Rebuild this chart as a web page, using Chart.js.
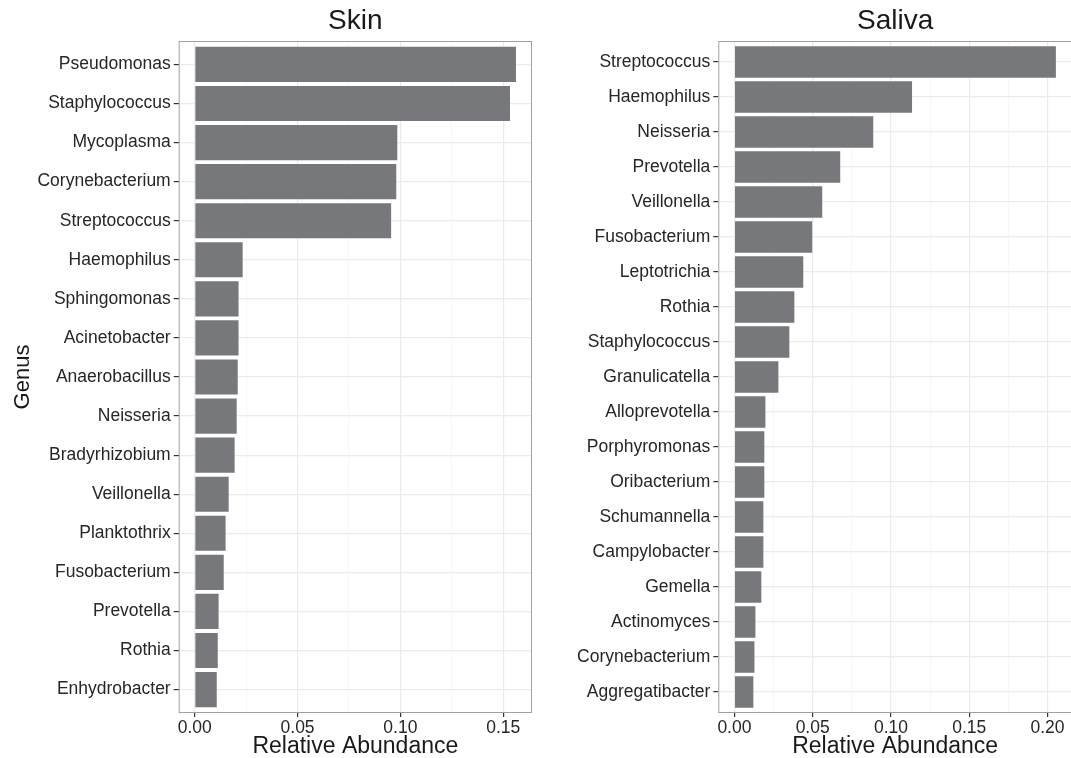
<!DOCTYPE html>
<html lang="en">
<head>
  <meta charset="UTF-8" />
  <title>Skin and Saliva genera</title>
  <script src="https://cdn.jsdelivr.net/npm/chart.js"></script>
  <style>
    html, body { margin: 0; padding: 0; background: #fff; overflow: hidden; }
    #wrap { position: relative; width: 1071px; height: 758px; overflow: hidden; }
    canvas { position: absolute; top: 0; }
    #skinCanvas { left: 0; }
    #salivaCanvas { left: 536px; }
  </style>
</head>
<body>
  <div id="wrap">
    <canvas id="skinCanvas" width="536" height="758"></canvas>
    <canvas id="salivaCanvas" width="540" height="758"></canvas>
  </div>

  <script>
    const skinGenera = ['Pseudomonas', 'Staphylococcus', 'Mycoplasma', 'Corynebacterium', 'Streptococcus',
      'Haemophilus', 'Sphingomonas', 'Acinetobacter', 'Anaerobacillus', 'Neisseria', 'Bradyrhizobium',
      'Veillonella', 'Planktothrix', 'Fusobacterium', 'Prevotella', 'Rothia', 'Enhydrobacter'];
    const skinAbundance = [0.1562, 0.1533, 0.0985, 0.0980, 0.0955, 0.0233, 0.0213, 0.0213, 0.0209,
      0.0204, 0.0194, 0.0165, 0.0150, 0.0141, 0.0116, 0.0112, 0.0107];

    const salivaGenera = ['Streptococcus', 'Haemophilus', 'Neisseria', 'Prevotella', 'Veillonella',
      'Fusobacterium', 'Leptotrichia', 'Rothia', 'Staphylococcus', 'Granulicatella', 'Alloprevotella',
      'Porphyromonas', 'Oribacterium', 'Schumannella', 'Campylobacter', 'Gemella', 'Actinomyces',
      'Corynebacterium', 'Aggregatibacter'];
    const salivaAbundance = [0.2054, 0.1135, 0.0887, 0.0676, 0.0561, 0.0497, 0.0440, 0.0383, 0.0351,
      0.0281, 0.0198, 0.0191, 0.0191, 0.0185, 0.0185, 0.0172, 0.0134, 0.0128, 0.0121];

    // major ticks every 0.05, minor grid in between
    const skinTicks = [0, 0.025, 0.05, 0.075, 0.1, 0.125, 0.15];
    const salivaTicks = [0, 0.025, 0.05, 0.075, 0.1, 0.125, 0.15, 0.175, 0.2];

    const FONT = "'Liberation Sans', Arial, Helvetica, sans-serif";
    const BAR = '#77787c';
    const TEXT = '#262626';

    const isMajor = v => Math.abs(v / 0.05 - Math.round(v / 0.05)) < 1e-6;

    // ggplot-like panel border all round
    const panelBorder = {
      id: 'panelBorder',
      afterDraw(chart) {
        const { ctx, chartArea: a } = chart;
        ctx.save();
        ctx.strokeStyle = '#a0a0a0';
        ctx.lineWidth = 1;
        ctx.strokeRect(a.left + 0.5, a.top + 0.5, a.right - a.left - 1, a.bottom - a.top - 1);
        ctx.restore();
      }
    };

    function makePanel(canvasId, title, genera, values, xTicks, xMin, xMax, yWidth, yTitle) {
      return new Chart(document.getElementById(canvasId), {
        type: 'bar',
        data: {
          datasets: [{
            data: genera.map((g, i) => ({ x: values[i], y: i })),
            backgroundColor: BAR,
            borderWidth: 0,
            categoryPercentage: 1,
            barPercentage: 0.9
          }]
        },
        options: {
          indexAxis: 'y',
          responsive: false,
          animation: false,
          devicePixelRatio: 1,
          layout: { padding: { left: 0, right: 4, top: 0, bottom: 0 } },
          plugins: {
            legend: { display: false },
            tooltip: { enabled: false },
            title: {
              display: true,
              text: title,
              fullSize: false,
              color: '#1a1a1a',
              font: { family: FONT, size: 28, weight: 'normal', lineHeight: 1.2 },
              padding: { top: 4, bottom: 3.4 }
            }
          },
          scales: {
            x: {
              type: 'linear',
              position: 'bottom',
              bounds: 'data',
              offset: false,
              min: xMin,
              max: xMax,
              afterBuildTicks: s => { s.ticks = xTicks.map(v => ({ value: v })); },
              afterFit: s => { s.height = 45; },
              ticks: {
                autoSkip: false,
                maxRotation: 0,
                padding: 1,
                color: TEXT,
                font: { family: FONT, size: 17.5 },
                callback: v => isMajor(v) ? v.toFixed(2) : ''
              },
              grid: {
                offset: false,
                color: c => (c.tick && !isMajor(c.tick.value)) ? '#f4f4f4' : '#ebebeb',
                lineWidth: c => (c.tick && !isMajor(c.tick.value)) ? 0.7 : 1.2,
                tickColor: c => (c.tick && !isMajor(c.tick.value)) ? 'rgba(0,0,0,0)' : '#333',
                tickLength: 4
              },
              border: { display: false },
              title: {
                display: true,
                text: 'Relative Abundance',
                color: '#1a1a1a',
                font: { family: FONT, size: 23, lineHeight: 1 },
                padding: 0
              }
            },
            y: {
              type: 'linear',
              reverse: true,
              bounds: 'data',
              offset: false,
              min: -0.6,
              max: genera.length - 0.4,
              afterBuildTicks: s => { s.ticks = genera.map((g, i) => ({ value: i })); },
              afterFit: s => { s.width = yWidth; },
              ticks: {
                autoSkip: false,
                padding: 3,
                color: TEXT,
                font: { family: FONT, size: 17.5 },
                callback: v => genera[v]
              },
              grid: { offset: false, color: '#ebebeb', lineWidth: 1.2, tickColor: '#333', tickLength: 5 },
              border: { display: false },
              title: {
                display: !!yTitle,
                text: yTitle || '',
                color: '#1a1a1a',
                font: { family: FONT, size: 22, lineHeight: 1 },
                padding: { top: 12, bottom: 0 }
              }
            }
          }
        },
        plugins: [panelBorder]
      });
    }

    makePanel('skinCanvas', 'Skin', skinGenera, skinAbundance, skinTicks, -0.0078, 0.164, 178.7, 'Genus');
    makePanel('salivaCanvas', 'Saliva', salivaGenera, salivaAbundance, salivaTicks, -0.0103, 0.2157, 182.3, null);
  </script>
</body>
</html>
